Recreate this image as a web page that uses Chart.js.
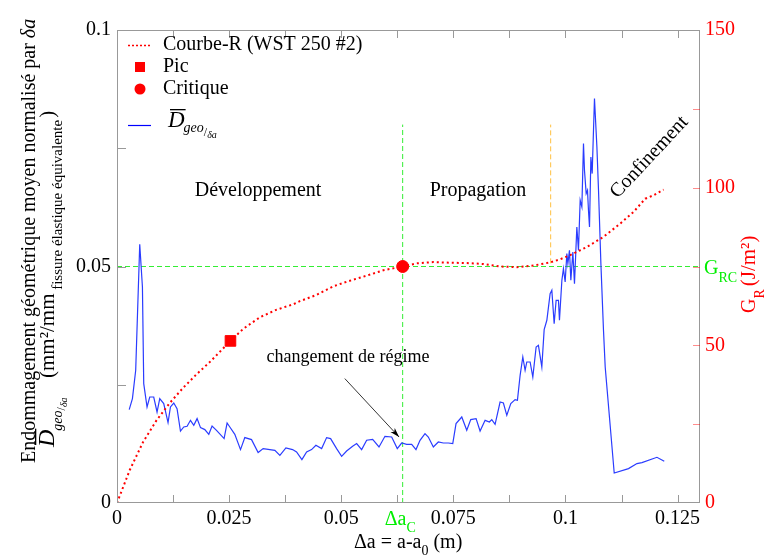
<!DOCTYPE html>
<html>
<head>
<meta charset="utf-8">
<script src="https://cdn.jsdelivr.net/npm/chart.js@4/dist/chart.umd.min.js"></script>
<style>
html, body { margin: 0; padding: 0; background: #fff; }
canvas { display: block; }
</style>
</head>
<body>
<canvas id="graphe" width="768" height="557"></canvas>
<script>
// axes
const xTicks = [0, 0.025, 0.05, 0.075, 0.1, 0.125];
const xTickLabels = ['0', '0.025', '0.05', '0.075', '0.1', '0.125'];
const yTicks = [0, 0.05, 0.1];
const yTickLabels = ['0', '0.05', '0.1'];
const gTicks = [0, 50, 100, 150];
const gTickLabels = ['0', '50', '100', '150'];

// Courbe-R (WST 250 #2), G_R en J/m2
const rCurveX = [0, 0.00283, 0.0058, 0.0088, 0.01176, 0.01473, 0.01772, 0.02069, 0.02366, 0.0253,
  0.02813, 0.03185, 0.03558, 0.03929, 0.04078, 0.04451, 0.04821, 0.05194, 0.05567, 0.05938,
  0.0637, 0.06683, 0.07054, 0.07426, 0.078, 0.0817, 0.08542, 0.08915, 0.09286, 0.09658,
  0.09882, 0.10105, 0.10478, 0.10848, 0.11221, 0.11518, 0.11779, 0.11964, 0.12188];
const rCurveG = [0, 10.4, 19.3, 26.2, 31.7, 36.5, 40.8, 44.7, 49.0, 51.4,
  55.2, 58.9, 61.3, 63.0, 64.0, 66.0, 68.7, 70.5, 72.1, 73.8,
  75.0, 76.0, 76.4, 76.2, 76.1, 75.8, 75.0, 74.8, 75.3, 76.3,
  77.3, 78.6, 81.2, 84.4, 88.6, 92.3, 96.5, 97.6, 99.4];

// points particuliers
const picX = [0.0253];
const picG = [51.4];
const critX = [0.0637];
const critG = [75];

// D geo / delta a
const dGeoX = [0.00272, 0.00344, 0.00417, 0.00507, 0.00567, 0.00596, 0.0067, 0.0073, 0.00819, 0.00893,
  0.00953, 0.01042, 0.01138, 0.01192, 0.01266, 0.01339, 0.01415, 0.01489, 0.01563, 0.01638,
  0.01712, 0.01786, 0.01862, 0.01958, 0.02047, 0.0212, 0.02219, 0.02388, 0.02455, 0.02516,
  0.02627, 0.02754, 0.0285, 0.03, 0.03147, 0.03259, 0.03408, 0.0352, 0.03632, 0.03766,
  0.03915, 0.04004, 0.04123, 0.04228, 0.04339, 0.04435, 0.04563, 0.04674, 0.04763, 0.04897,
  0.05009, 0.0512, 0.05254, 0.05344, 0.05455, 0.05567, 0.05701, 0.05842, 0.05975, 0.06125,
  0.0625, 0.06348, 0.0646, 0.06571, 0.06667, 0.06757, 0.06868, 0.06942, 0.07054, 0.07165,
  0.07277, 0.07388, 0.07487, 0.0756, 0.07688, 0.07799, 0.07888, 0.08007, 0.08096, 0.08208,
  0.08304, 0.08357, 0.08431, 0.08542, 0.08616, 0.08692, 0.08781, 0.08877, 0.08929, 0.08989,
  0.09049, 0.091, 0.09138, 0.09212, 0.09272, 0.09346, 0.09397, 0.09473, 0.09525, 0.09585,
  0.09658, 0.09696, 0.09748, 0.09792, 0.09844, 0.09866, 0.0992, 0.09955, 0.09993, 0.10031,
  0.10054, 0.10089, 0.1012, 0.10165, 0.10201, 0.10254, 0.1029, 0.10328, 0.10366, 0.10402,
  0.10424, 0.10462, 0.10491, 0.10513, 0.10536, 0.10567, 0.10596, 0.10625, 0.10647, 0.10701,
  0.10737, 0.1079, 0.10848, 0.10886, 0.11087, 0.11406, 0.11594, 0.11705, 0.1204, 0.12203];
const dGeoY = [0.01975, 0.02207, 0.02805, 0.05469, 0.04567, 0.02524, 0.0203, 0.02241, 0.02241, 0.01924,
  0.02207, 0.02101, 0.017, 0.0203, 0.02114, 0.01996, 0.01522, 0.01607, 0.01622, 0.01748,
  0.01643, 0.01784, 0.01594, 0.01552, 0.01452, 0.01628, 0.01537, 0.01362, 0.01691, 0.01607,
  0.01452, 0.01129, 0.01383, 0.0134, 0.01066, 0.0115, 0.01129, 0.01114, 0.01008, 0.01163,
  0.01129, 0.01078, 0.00918, 0.01078, 0.01129, 0.0122, 0.0115, 0.01383, 0.01362, 0.0115,
  0.00987, 0.01099, 0.01199, 0.01256, 0.01129, 0.01326, 0.01347, 0.01184, 0.0141, 0.01395,
  0.0115, 0.01268, 0.01241, 0.01241, 0.01129, 0.01326, 0.01467, 0.01395, 0.01184, 0.0129,
  0.01268, 0.01268, 0.01256, 0.01679, 0.01818, 0.01537, 0.01763, 0.01784, 0.01522, 0.01748,
  0.01712, 0.01763, 0.01664, 0.02135, 0.02114, 0.01854, 0.02101, 0.02186, 0.02171, 0.027,
  0.03087, 0.02805, 0.02981, 0.02981, 0.02664, 0.03298, 0.03334, 0.02875, 0.03666, 0.03863,
  0.04427, 0.04497, 0.03793, 0.04285, 0.04285, 0.03863, 0.04708, 0.04956, 0.04672, 0.05273,
  0.05061, 0.05342, 0.04708, 0.05307, 0.04638, 0.05835, 0.05342, 0.064, 0.06258, 0.07598,
  0.07034, 0.06541, 0.06611, 0.06188, 0.05835, 0.07315, 0.06964, 0.0788, 0.0855, 0.07526,
  0.06611, 0.05061, 0.03651, 0.02875, 0.00634, 0.00727, 0.00833, 0.00854, 0.00966, 0.00882];

// lignes de repere
const gRC = 75;
const deltaAC = 0.0637;
const deltaAConf = 0.0967;
const repereHaut = 120;
const repereConfBas = 76;

const serif = "'Liberation Serif', 'Times New Roman', serif";
const pts = (xs, ys) => xs.map((x, i) => ({ x: x, y: ys[i] }));

// texte composite (indices, exposants), eventuellement tourne
function texte(ctx, x, y, rot, parts) {
  ctx.save();
  ctx.translate(x, y);
  ctx.rotate(rot);
  ctx.textBaseline = 'alphabetic';
  ctx.textAlign = 'left';
  let u = 0;
  for (const p of parts) {
    ctx.font = p.f;
    ctx.fillStyle = p.c || '#000';
    u += p.dx || 0;
    ctx.fillText(p.t, u, p.dy || 0);
    const w = ctx.measureText(p.t).width;
    if (p.bar) ctx.fillRect(u + 2, p.bar, w - 1, 1.3);
    u += w;
  }
  ctx.restore();
}

const decor = {
  id: 'decor',
  afterDraw(chart) {
    const { ctx, chartArea: a, scales } = chart;
    const x = scales.x, y = scales.y, g = scales.y2;
    const rot = -Math.PI / 2;
    ctx.save();

    // cadre
    ctx.strokeStyle = '#999';
    ctx.lineWidth = 1;
    ctx.strokeRect(a.left + 0.5, a.top + 0.5, a.width - 1, a.height - 1);

    // graduations vers l'interieur
    ctx.beginPath();
    for (let v = 0; v <= 0.13; v += 0.0125) {
      const px = Math.round(x.getPixelForValue(v)) + 0.5;
      ctx.moveTo(px, a.bottom); ctx.lineTo(px, a.bottom - 8);
      ctx.moveTo(px, a.top); ctx.lineTo(px, a.top + 8);
    }
    for (let v = 0.025; v < 0.1; v += 0.025) {
      const py = Math.round(y.getPixelForValue(v)) + 0.5;
      ctx.moveTo(a.left, py); ctx.lineTo(a.left + 9, py);
    }
    ctx.stroke();
    ctx.strokeStyle = 'rgba(255,0,0,0.45)';
    ctx.beginPath();
    for (let v = 25; v < 150; v += 25) {
      const py = Math.round(g.getPixelForValue(v)) + 0.5;
      ctx.moveTo(a.right, py); ctx.lineTo(a.right - 7, py);
    }
    ctx.stroke();

    // legende
    const L = a.left;
    ctx.strokeStyle = '#ff0000';
    ctx.lineWidth = 1.5;
    ctx.setLineDash([2, 2]);
    ctx.beginPath(); ctx.moveTo(L + 11, 45.5); ctx.lineTo(L + 34, 45.5); ctx.stroke();
    ctx.setLineDash([]);
    ctx.fillStyle = '#ff0000';
    ctx.fillRect(L + 18, 62, 10, 10);
    ctx.beginPath(); ctx.arc(L + 23, 89, 5.5, 0, Math.PI * 2); ctx.fill();
    ctx.strokeStyle = '#0000ff';
    ctx.lineWidth = 1.2;
    ctx.beginPath(); ctx.moveTo(L + 11, 125.5); ctx.lineTo(L + 34, 125.5); ctx.stroke();
    ctx.fillStyle = '#000';
    ctx.font = '20px ' + serif;
    ctx.textBaseline = 'middle';
    ctx.fillText('Courbe-R (WST 250 #2)', L + 46, 45);
    ctx.fillText('Pic', L + 46, 67);
    ctx.fillText('Critique', L + 46, 89);
    texte(ctx, L + 51, 127, 0, [
      { t: 'D', f: 'italic 23px ' + serif, bar: -18 },
      { t: 'geo', f: 'italic 14px ' + serif, dy: 5, dx: -1 },
      { t: '/', f: '12px ' + serif, dy: 9 },
      { t: 'δa', f: 'italic 10px ' + serif, dy: 11 }
    ]);

    // titre axe gauche
    texte(ctx, 35, 463, rot, [
      { t: 'Endommagement géométrique moyen normalisé par ', f: '20px ' + serif },
      { t: 'δa', f: 'italic 20px ' + serif }
    ]);
    texte(ctx, 54, 447, rot, [
      { t: 'D', f: 'italic 24px ' + serif, bar: -19 },
      { t: 'geo', f: 'italic 14px ' + serif, dy: 8, dx: -1 },
      { t: '/', f: '12px ' + serif, dy: 11 },
      { t: 'δa', f: 'italic 10px ' + serif, dy: 13 }
    ]);
    texte(ctx, 54, 378, rot, [
      { t: '(mm²/mm', f: '21px ' + serif },
      { t: ' fissure élastique équivalente', f: '15px ' + serif, dy: 8 },
      { t: ')', f: '21px ' + serif, dx: 2 }
    ]);

    // titre axe droit
    texte(ctx, 755, 313, rot, [
      { t: 'G', f: '20px ' + serif, c: '#ff0000' },
      { t: 'R', f: '14px ' + serif, c: '#ff0000', dy: 9 },
      { t: '(J/m²)', f: '21px ' + serif, c: '#ff0000', dx: 3 }
    ]);
    // G_RC
    const pyRC = g.getPixelForValue(gRC);
    texte(ctx, a.right + 4, pyRC + 7, 0, [
      { t: 'G', f: '20px ' + serif, c: '#00ee00' },
      { t: 'RC', f: '14px ' + serif, c: '#00ee00', dy: 8 }
    ]);
    // delta a_C
    const pxC = x.getPixelForValue(deltaAC);
    texte(ctx, pxC - 18, a.bottom + 22, 0, [
      { t: 'Δa', f: '20px ' + serif, c: '#00ee00' },
      { t: 'C', f: '14px ' + serif, c: '#00ee00', dy: 7 }
    ]);
    // titre axe x
    texte(ctx, 354, 548, 0, [
      { t: 'Δa = a-a', f: '20px ' + serif },
      { t: '0', f: '14px ' + serif, dy: 7 },
      { t: ' (m)', f: '20px ' + serif }
    ]);

    // annotations
    ctx.fillStyle = '#000';
    ctx.textAlign = 'center';
    ctx.textBaseline = 'middle';
    ctx.font = '20px ' + serif;
    ctx.fillText('Développement', x.getPixelForValue(0.03145), y.getPixelForValue(0.0661));
    ctx.fillText('Propagation', x.getPixelForValue(0.0805), y.getPixelForValue(0.0661));
    ctx.save();
    ctx.translate(x.getPixelForValue(0.11868), y.getPixelForValue(0.07309));
    ctx.rotate(-0.82);
    ctx.fillText('Confinement', 0, 0);
    ctx.restore();
    ctx.font = '18px ' + serif;
    ctx.fillText('changement de régime', x.getPixelForValue(0.0515), y.getPixelForValue(0.0308));

    // fleche
    const x0 = x.getPixelForValue(0.0508), y0 = y.getPixelForValue(0.0263);
    const x1 = x.getPixelForValue(0.0629), y1 = y.getPixelForValue(0.01395);
    const ang = Math.atan2(y1 - y0, x1 - x0);
    ctx.strokeStyle = '#000';
    ctx.lineWidth = 0.8;
    ctx.beginPath(); ctx.moveTo(x0, y0); ctx.lineTo(x1, y1); ctx.stroke();
    ctx.beginPath();
    ctx.moveTo(x1, y1);
    ctx.lineTo(x1 - 10 * Math.cos(ang - 0.3), y1 - 10 * Math.sin(ang - 0.3));
    ctx.lineTo(x1 - 7 * Math.cos(ang), y1 - 7 * Math.sin(ang));
    ctx.lineTo(x1 - 10 * Math.cos(ang + 0.3), y1 - 10 * Math.sin(ang + 0.3));
    ctx.closePath();
    ctx.fill();

    ctx.restore();
  }
};

new Chart(document.getElementById('graphe'), {
  type: 'line',
  data: {
    datasets: [
      {
        label: 'Pic', data: pts(picX, picG), yAxisID: 'y2', showLine: false,
        pointStyle: 'rect', pointRadius: 7.5, backgroundColor: '#ff0000', borderColor: '#ff0000', order: 1
      },
      {
        label: 'Critique', data: pts(critX, critG), yAxisID: 'y2', showLine: false,
        pointStyle: 'circle', pointRadius: 6, backgroundColor: '#ff0000', borderColor: '#ff0000', order: 1
      },
      {
        label: 'Courbe-R (WST 250 #2)', data: pts(rCurveX, rCurveG), yAxisID: 'y2',
        borderColor: '#ff0000', borderWidth: 2, borderDash: [2, 3], pointRadius: 0, order: 3
      },
      {
        label: 'Dgeo', data: pts(dGeoX, dGeoY), yAxisID: 'y',
        borderColor: '#2a3cff', borderWidth: 1.2, pointRadius: 0, order: 4
      },
      {
        label: 'GRC', data: pts([0, 0.13], [gRC, gRC]), yAxisID: 'y2',
        borderColor: '#33ee33', borderWidth: 1, borderDash: [5, 3], pointRadius: 0, order: 8
      },
      {
        label: 'daC', data: pts([deltaAC, deltaAC], [0, repereHaut]), yAxisID: 'y2',
        borderColor: '#33ee33', borderWidth: 1, borderDash: [5, 3], pointRadius: 0, order: 8
      },
      {
        label: 'conf', data: pts([deltaAConf, deltaAConf], [repereConfBas, repereHaut]), yAxisID: 'y2',
        borderColor: '#ffc040', borderWidth: 1, borderDash: [5, 3], pointRadius: 0, order: 8
      }
    ]
  },
  options: {
    responsive: false,
    animation: false,
    devicePixelRatio: 1,
    layout: { padding: { top: 30 } },
    plugins: { legend: { display: false }, tooltip: { enabled: false } },
    scales: {
      x: {
        type: 'linear', min: 0, max: 0.13,
        afterFit: s => { s.height = 54; },
        afterBuildTicks: s => { s.ticks = xTicks.map(v => ({ value: v })); },
        ticks: {
          callback: (v, i) => xTickLabels[i], color: '#000', padding: 4,
          font: { family: serif, size: 20 }, maxRotation: 0, autoSkip: false
        },
        grid: { display: false, drawTicks: false },
        border: { display: false }
      },
      y: {
        type: 'linear', position: 'left', min: 0, max: 0.1,
        afterFit: s => { s.width = 117; },
        afterBuildTicks: s => { s.ticks = yTicks.map(v => ({ value: v })); },
        ticks: {
          callback: (v, i) => yTickLabels[i], color: '#000', padding: 6,
          font: { family: serif, size: 20 }, autoSkip: false
        },
        grid: { display: false, drawTicks: false },
        border: { display: false }
      },
      y2: {
        type: 'linear', position: 'right', min: 0, max: 150,
        afterFit: s => { s.width = 68; },
        afterBuildTicks: s => { s.ticks = gTicks.map(v => ({ value: v })); },
        ticks: {
          callback: (v, i) => gTickLabels[i], color: '#ff0000', padding: 5,
          font: { family: serif, size: 20 }, autoSkip: false
        },
        grid: { display: false, drawTicks: false },
        border: { display: false }
      }
    }
  },
  plugins: [decor]
});
</script>
</body>
</html>
